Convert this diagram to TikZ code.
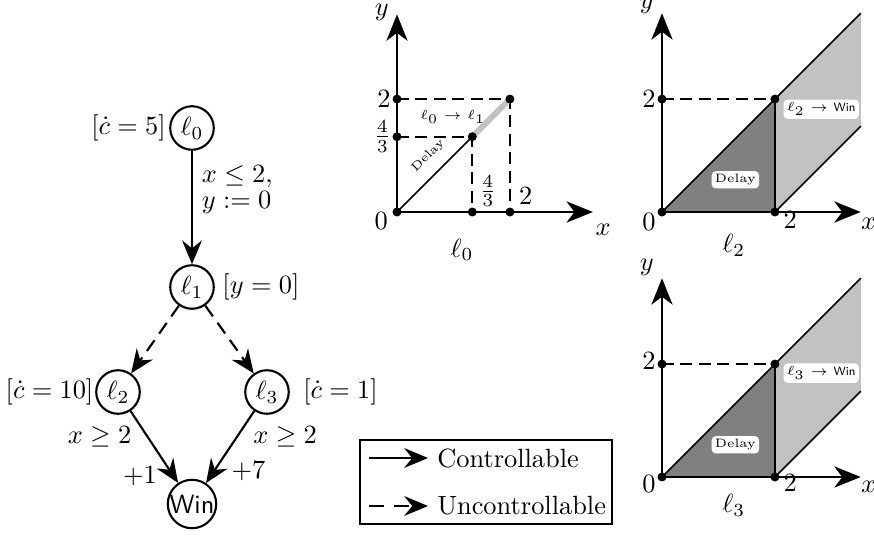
\documentclass[tikz,border=0pt]{standalone}
\usepackage{amsmath,amssymb}
\usepackage{tikz}
\usetikzlibrary{positioning,arrows.meta,calc}
\definecolor{delayfill}{gray}{0.5}
\definecolor{winfill}{gray}{0.76}
\tikzset{
  loc/.style={circle,draw=black,thick,minimum size=16.5pt,inner sep=0pt},
  note/.style={inner sep=0.5pt},
  ctrl/.style={-{Stealth[length=9pt,width=7.5pt,inset=3pt]},thick},
  unctrl/.style={ctrl,dash pattern=on 5pt off 3pt},
  axis/.style={-{Stealth[length=10pt,width=8pt,inset=3pt]},line width=1pt},
  guide/.style={thick,dash pattern=on 4.5pt off 2.5pt},
  vtx/.style={circle,fill=black,inner sep=0pt,minimum size=3.4pt},
  tag/.style={fill=white,rounded corners=1.5pt,inner sep=1.2pt,font=\fontsize{4.6pt}{5pt}\selectfont}
}

\begin{document}
\begin{tikzpicture}[x=0.379pt,y=-0.379pt]
  \useasboundingbox (0,0) rectangle (874,538);

  % automaton
  \node[loc,label={[note,label distance=0.6pt]left:$[\dot c=5]$}] (l0) at (192,128) {$\ell_0$};
  \node[loc,label={[note,label distance=2.2pt]right:$[y=0]$}] (l1) at (192,287) {$\ell_1$};
  \node[loc,label={[note,label distance=0pt]left:$[\dot c=10]$}] (l2) at (118,392) {$\ell_2$};
  \node[loc,label={[note,label distance=4.4pt]right:$[\dot c=1]$}] (l3) at (267,392) {$\ell_3$};
  \node[loc] (win) at (192,504) {\textsf{Win}};
  \draw[ctrl] (l0) -- node[right,align=left,pos=0.34] {$x\le 2,$\\[-2pt]$y:=0$} (l1);
  \draw[unctrl] (l1) -- (l2);
  \draw[unctrl] (l1) -- (l3);
  \draw[ctrl] (l2) -- node[left=2.5pt,pos=0.36] {$x\ge 2$} node[left=2.5pt,pos=0.9] {$+1$} (win);
  \draw[ctrl] (l3) -- node[right=2.5pt,pos=0.36] {$x\ge 2$} node[right=3pt,pos=0.84] {$+7$} (win);

  % legend
  \node[draw,thick,minimum width=95.5pt,minimum height=31.8pt] (legend) at (486,482) {};
  \coordinate (cs) at (369,458);
  \coordinate (ce) at (428,458);
  \coordinate (us) at (369,506);
  \coordinate (ue) at (428,506);
  \draw[ctrl] (cs) -- (ce);
  \draw[ctrl,dash pattern=on 5.7pt off 3.8pt] (us) -- (ue);
  \node[anchor=west] (ctext) at (ce) {Controllable};
  \node[anchor=west] (utext) at (ue) {Uncontrollable};

  % plot for l0
  \begin{scope}[shift={(397,212)},x=21.4pt,y=21.4pt]
    \coordinate (p0o) at (0,0);
    \coordinate (p0a) at (4/3,0);
    \coordinate (p0b) at (2,0);
    \coordinate (p0c) at (0,4/3);
    \coordinate (p0d) at (0,2);
    \coordinate (p0e) at (4/3,4/3);
    \coordinate (p0f) at (2,2);
    \coordinate (p0x) at (3.47,0);
    \coordinate (p0y) at (0,3.5);
    \draw[guide] (p0d) -- (p0f) -- (p0b);
    \draw[guide] (p0c) -- (p0e) -- (p0a);
    \draw[line width=2.2pt,winfill] (p0e) -- (p0f);
    \draw[semithick] (p0o) -- node[sloped,above=1pt,pos=0.58,font=\fontsize{4.6pt}{5pt}\selectfont] {Delay} (p0e);
    \draw[axis] (p0o) -- (p0x);
    \draw[axis] (p0o) -- (p0y);
    \foreach \p in {o,a,b,c,d,e,f} \node[vtx] (p0\p dot) at (p0\p) {};
    \node (p0ylab) at (-0.27,3.54) {$y$};
    \node (p0xlab) at (3.65,-0.32) {$x$};
    \node (p0zero) at (-0.28,-0.16) {$0$};
    \node (p0two) at (-0.23,2) {$2$};
    \node (p0third) at (-0.26,4/3) {$\frac{4}{3}$};
    \node (p0xthird) at (1.61,0.37) {$\frac{4}{3}$};
    \node (p0xtwo) at (2.28,0.28) {$2$};
    \node[font=\fontsize{4.6pt}{5pt}\selectfont] (p0move) at (0.99,1.68) {$\ell_0\to\ell_1$};
    \node (p0name) at (1.15,-0.67) {$\ell_0$};
  \end{scope}

  % plot for l2
  \begin{scope}[shift={(662,212)},x=21.4pt,y=21.4pt]
    \coordinate (p2o) at (0,0);
    \coordinate (p2b) at (2,0);
    \coordinate (p2d) at (0,2);
    \coordinate (p2f) at (2,2);
    \coordinate (p2top) at (3.52,3.52);
    \coordinate (p2low) at (3.52,1.52);
    \coordinate (p2x) at (3.52,0);
    \coordinate (p2y) at (0,3.52);
    \fill[winfill] (p2b) -- (p2low) -- (p2top) -- (p2f) -- cycle;
    \fill[delayfill] (p2o) -- (p2f) -- (p2b) -- cycle;
    \draw[semithick] (p2o) -- (p2top);
    \draw[semithick] (p2b) -- (p2low);
    \draw[thick] (p2b) -- (p2f);
    \draw[guide] (p2d) -- (p2f);
    \draw[axis] (p2o) -- (p2x);
    \draw[axis] (p2o) -- (p2y);
    \foreach \p in {o,b,d,f} \node[vtx] (p2\p dot) at (p2\p) {};
    \node[tag] (p2delay) at (1.3,0.57) {Delay};
    \node[tag] (p2win) at (2.82,1.82) {$\ell_2\to{}$\textsf{Win}};
    \node (p2ylab) at (-0.27,3.66) {$y$};
    \node (p2xlab) at (3.66,-0.21) {$x$};
    \node (p2zero) at (-0.23,-0.18) {$0$};
    \node (p2two) at (-0.23,2) {$2$};
    \node (p2xtwo) at (2.27,-0.14) {$2$};
    \node (p2name) at (1.27,-0.59) {$\ell_2$};
  \end{scope}

  % plot for l3
  \begin{scope}[shift={(662,477)},x=21.4pt,y=21.4pt]
    \coordinate (p3o) at (0,0);
    \coordinate (p3b) at (2,0);
    \coordinate (p3d) at (0,2);
    \coordinate (p3f) at (2,2);
    \coordinate (p3top) at (3.52,3.52);
    \coordinate (p3low) at (3.52,1.52);
    \coordinate (p3x) at (3.52,0);
    \coordinate (p3y) at (0,3.52);
    \fill[winfill] (p3b) -- (p3low) -- (p3top) -- (p3f) -- cycle;
    \fill[delayfill] (p3o) -- (p3f) -- (p3b) -- cycle;
    \draw[semithick] (p3o) -- (p3top);
    \draw[semithick] (p3b) -- (p3low);
    \draw[thick] (p3b) -- (p3f);
    \draw[guide] (p3d) -- (p3f);
    \draw[axis] (p3o) -- (p3x);
    \draw[axis] (p3o) -- (p3y);
    \foreach \p in {o,b,d,f} \node[vtx] (p3\p dot) at (p3\p) {};
    \node[tag] (p3delay) at (1.3,0.57) {Delay};
    \node[tag] (p3win) at (2.82,1.84) {$\ell_3\to{}$\textsf{Win}};
    \node (p3ylab) at (-0.27,3.71) {$y$};
    \node (p3xlab) at (3.66,-0.18) {$x$};
    \node (p3zero) at (-0.23,-0.12) {$0$};
    \node (p3two) at (-0.23,2.05) {$2$};
    \node (p3xtwo) at (2.27,-0.1) {$2$};
    \node (p3name) at (1.27,-0.5) {$\ell_3$};
  \end{scope}
\end{tikzpicture}
\end{document}
